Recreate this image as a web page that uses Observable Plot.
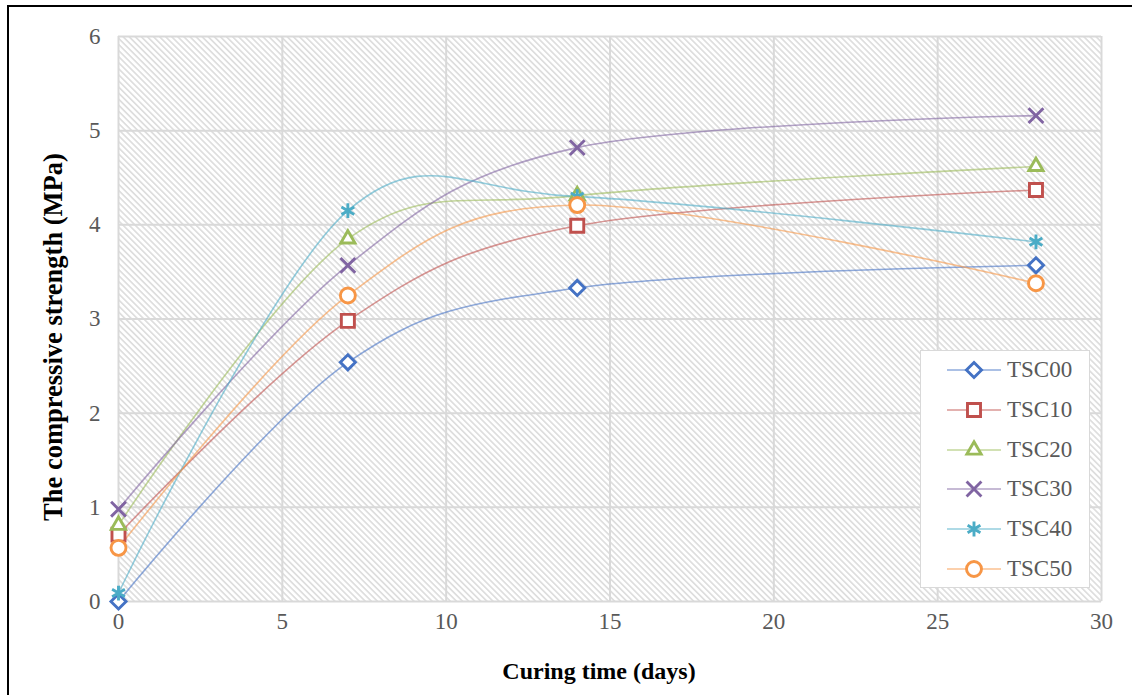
<!DOCTYPE html>
<html>
<head>
<meta charset="utf-8">
<script src="https://cdn.jsdelivr.net/npm/d3@7"></script>
<script src="https://cdn.jsdelivr.net/npm/@observablehq/plot@0.6"></script>
<style>
  html, body { margin: 0; padding: 0; background: #fff; }
  #wrap { position: relative; width: 1132px; height: 695px; overflow: hidden; background: #fff; }
  #border { position: absolute; left: 7px; top: 5px; width: 1300px; height: 900px; border: 2px solid #000; box-sizing: border-box; }
  #chart { position: absolute; left: 0; top: 0; }
  #legend { position: absolute; left: 920px; top: 350px; width: 170px; height: 238px; box-sizing: border-box;
            border: 1.5px solid #d9d9d9; background: #fff; font-family: "Liberation Serif", serif; font-size: 23px; color: #595959; }
  .row { position: absolute; left: 0; height: 40px; width: 168px; }
  .row svg { position: absolute; left: 26px; top: 0; }
  .row span { position: absolute; left: 86px; top: 0; white-space: nowrap; line-height: 40px; }
</style>
</head>
<body>
<div id="wrap">
  <div id="border"></div>
  <div id="chart"></div>
  <div id="legend"></div>
</div>
<script>
// ---- data ----
const days = [0, 7, 14, 28];
const seriesNames = ["TSC00", "TSC10", "TSC20", "TSC30", "TSC40", "TSC50"];
const TSC00 = [0.00, 2.54, 3.33, 3.57];
const TSC10 = [0.71, 2.98, 3.99, 4.37];
const TSC20 = [0.81, 3.85, 4.31, 4.62];
const TSC30 = [0.98, 3.57, 4.82, 5.16];
const TSC40 = [0.09, 4.15, 4.30, 3.82];
const TSC50 = [0.57, 3.25, 4.21, 3.38];
const xTicks = [0, 5, 10, 15, 20, 25, 30];
const yTicks = [0, 1, 2, 3, 4, 5, 6];
const xTitle = "Curing time (days)";
const yTitle = "The compressive strength (MPa)";

// ---- styles ----
const colors = ["#4472C4", "#C0504D", "#9BBB59", "#8064A2", "#4BACC6", "#F79646"];
const symbols = ["diamond2", "square2", "triangle2", "times", "asterisk", "circle"];
const d3Symbols = [d3.symbolDiamond2, d3.symbolSquare2, d3.symbolTriangle2, d3.symbolTimes, d3.symbolAsterisk, d3.symbolCircle];
const radii = [6.8, 8.3, 6.8, 6.8, 7.0, 7.5];
const seriesValues = [TSC00, TSC10, TSC20, TSC30, TSC40, TSC50];

const data = seriesNames.flatMap((s, i) => days.map((d, j) => ({series: s, day: d, value: seriesValues[i][j]})));

const font = "'Liberation Serif', 'Times New Roman', serif";

const plot = Plot.plot({
  width: 1132,
  height: 695,
  marginLeft: 118,
  marginRight: 31,
  marginTop: 36,
  marginBottom: 94,
  style: {fontFamily: font, fontSize: "24px", color: "#595959", background: "transparent"},
  x: {domain: [0, 30], axis: null},
  y: {domain: [0, 6], axis: null},
  color: {domain: seriesNames, range: colors},
  symbol: {domain: seriesNames, range: symbols},
  marks: [
    Plot.frame({fill: "url(#hatch)", stroke: null}),
    Plot.gridX(xTicks, {stroke: "#d9d9d9", strokeOpacity: 1, strokeWidth: 2}),
    Plot.gridY(yTicks, {stroke: "#d9d9d9", strokeOpacity: 1, strokeWidth: 2}),
    Plot.text(xTicks, {x: d => d, frameAnchor: "bottom", dy: 27, fontSize: 23, fill: "#595959", text: d => String(d)}),
    Plot.text(yTicks, {y: d => d, frameAnchor: "left", textAnchor: "end", dx: -18, fontSize: 23, fill: "#595959", text: d => String(d)}),
    Plot.line(data, {x: "day", y: "value", z: "series", stroke: "series", curve: "cardinal", tension: 0, strokeWidth: 1.6, strokeOpacity: 0.6}),
    ...seriesNames.map((s, i) => Plot.dot(data.filter(d => d.series === s), {
      x: "day", y: "value", symbol: "series", stroke: "series", fill: "white", r: radii[i], strokeWidth: 2.9
    })),
    Plot.text([xTitle], {frameAnchor: "bottom", dy: 77, dx: -11, fontSize: 24, fontWeight: "bold", fill: "black"}),
    Plot.text([yTitle], {frameAnchor: "left", textAnchor: "middle", dx: -65, dy: 18, rotate: -90, fontSize: 26.5, fontWeight: "bold", fill: "black"})
  ]
});

// hatch pattern
const svgNS = "http://www.w3.org/2000/svg";
const defs = document.createElementNS(svgNS, "defs");
defs.innerHTML = `<pattern id="hatch" width="4.3" height="4.3" patternUnits="userSpaceOnUse" patternTransform="rotate(-45)">
  <rect width="4.3" height="4.3" fill="#fff"/>
  <rect x="0" y="0" width="1.7" height="4.3" fill="#dedede"/>
</pattern>`;
plot.insertBefore(defs, plot.firstChild);
document.getElementById("chart").appendChild(plot);

// legend
const legend = document.getElementById("legend");
seriesNames.forEach((s, i) => {
  const row = document.createElement("div");
  row.className = "row";
  row.style.top = (i * 39.8 - 1) + "px";
  const sym = d3.symbol(d3Symbols[i], Math.PI * radii[i] * radii[i]);
  row.innerHTML = `<svg width="56" height="40"><line x1="0" x2="54" y1="20" y2="20" stroke="${colors[i]}" stroke-opacity="0.6" stroke-width="1.5"/>
    <path transform="translate(27,20)" d="${sym()}" fill="white" stroke="${colors[i]}" stroke-width="2.9"/></svg><span>${s}</span>`;
  legend.appendChild(row);
});
</script>
</body>
</html>
